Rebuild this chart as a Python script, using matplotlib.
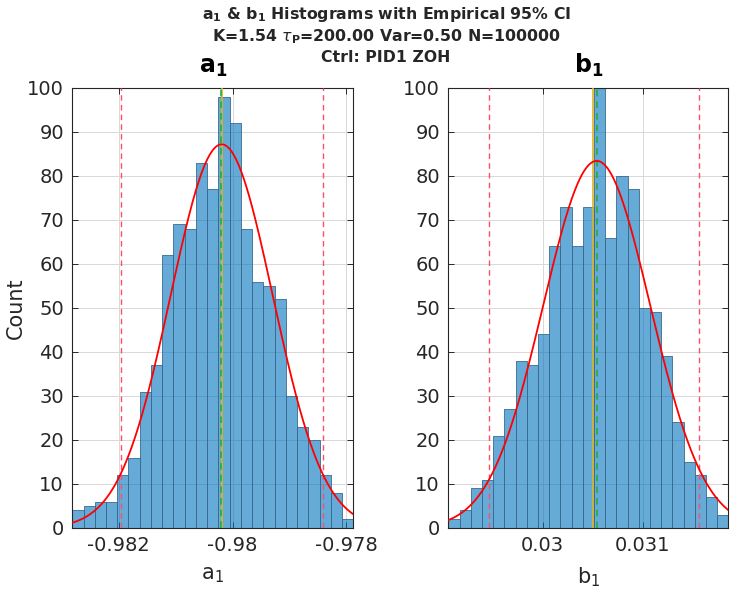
import numpy as np
import matplotlib
matplotlib.use('Agg')
import matplotlib.pyplot as plt

plt.rcParams['font.family'] = ['DejaVu Sans']
plt.rcParams['mathtext.fontset'] = 'dejavusans'
plt.rcParams['axes.unicode_minus'] = False

# histogram counts (25 bins each)
a1_counts = [4, 5, 6, 6, 12, 16, 31, 37, 62, 69, 68, 83, 77, 98, 92,
             68, 56, 55, 52, 30, 23, 20, 12, 8, 2]
b1_counts = [2, 4, 9, 11, 21, 27, 38, 37, 44, 64, 73, 64, 73, 110, 66,
             80, 77, 50, 49, 39, 24, 15, 12, 7, 3]

# data range of each histogram
a1_range = (-0.982811, -0.977881)
b1_range = (0.029058, 0.031858)

# normal fit (mean, std)
a1_fit = (-0.98019, 8.95e-4)
b1_fit = (0.030542, 5.35e-4)

# empirical 95% CI bounds, true value, mean
a1_ci = (-0.981961, -0.978418)
b1_ci = (0.029468, 0.031568)
a1_true = -0.98018
b1_true = 0.030502
a1_mean = -0.98021
b1_mean = 0.030542

a1_ticks = [-0.982, -0.98, -0.978]
a1_ticklabels = ['-0.982', '-0.98', '-0.978']
b1_ticks = [0.03, 0.031]
b1_ticklabels = ['0.03', '0.031']

TXT = '#262626'
BAR = (0.0, 0.447, 0.741, 0.6)

fig = plt.figure(figsize=(7.34, 5.89), dpi=100)

ax_a = fig.add_axes([0.0985, 0.1036, 0.3828, 0.7470])
ax_b = fig.add_axes([0.6108, 0.1036, 0.3815, 0.7470])


def draw(ax, counts, rng, fit, ci, true_v, mean_v, ticks, ticklabels, name):
    counts = np.array(counts, dtype=float)
    edges = np.linspace(rng[0], rng[1], len(counts) + 1)
    width = edges[1] - edges[0]
    ax.bar(edges[:-1], counts, width=width, align='edge', color=BAR,
           edgecolor='#3a6a8c', linewidth=0.6, zorder=2)

    xs = np.linspace(rng[0], rng[1], 400)
    mu, sd = fit
    ys = counts.sum() * width / (sd * np.sqrt(2 * np.pi)) * np.exp(-0.5 * ((xs - mu) / sd) ** 2)
    ax.plot(xs, ys, color='red', lw=1.3, zorder=4)

    for c in ci:
        ax.axvline(c, color='#ff4d6d', ls=(0, (4, 3)), lw=1.0, zorder=3)
    ax.axvline(true_v, color='#e0b420', lw=1.2, zorder=3)
    ax.axvline(mean_v, color='#20b040', ls=(0, (4, 3)), lw=1.2, zorder=3)

    ax.set_xlim(rng)
    ax.set_ylim(0, 100)
    ax.set_yticks(np.arange(0, 101, 10))
    ax.set_xticks(ticks)
    ax.set_xticklabels(ticklabels)
    ax.grid(True, color='#d8d8d8', lw=0.7, zorder=0)
    ax.set_axisbelow(True)
    ax.tick_params(direction='in', top=True, right=True, length=4,
                   labelsize=14, colors=TXT, width=0.7, pad=6)
    for s in ax.spines.values():
        s.set_color(TXT)
        s.set_linewidth(0.8)
    ax.set_xlabel(r'$\mathregular{%s_1}$' % name, fontsize=15, color=TXT, labelpad=7)
    ax.set_title(r'$\mathbf{%s_1}$' % name, fontsize=17, color='black', pad=11)


draw(ax_a, a1_counts, a1_range, a1_fit, a1_ci, a1_true, a1_mean,
     a1_ticks, a1_ticklabels, 'a')
draw(ax_b, b1_counts, b1_range, b1_fit, b1_ci, b1_true, b1_mean,
     b1_ticks, b1_ticklabels, 'b')
ax_a.set_ylabel('Count', fontsize=15, color=TXT, labelpad=1)

cx = 0.526
fig.text(cx, 0.975, r'$\mathbf{a_1}$ & $\mathbf{b_1}$ Histograms with Empirical 95% CI',
         ha='center', va='center', fontsize=11.3, fontweight='bold', color=TXT)
fig.text(cx, 0.938, r'K=1.54 $\tau_{\mathbf{P}}$=200.00 Var=0.50 N=100000',
         ha='center', va='center', fontsize=11.3, fontweight='bold', color=TXT)
fig.text(cx, 0.902, 'Ctrl: PID1 ZOH',
         ha='center', va='center', fontsize=11.3, fontweight='bold', color=TXT)

fig.savefig('out.png', dpi=100)
